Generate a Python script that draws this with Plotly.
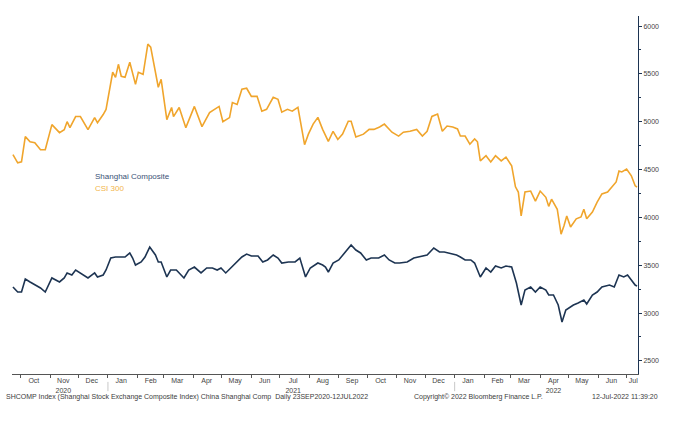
import plotly.graph_objects as go

# CSI 300 closes
csi_dates = [
    "2020-09-23", "2020-09-28", "2020-10-02", "2020-10-06", "2020-10-11", "2020-10-16", "2020-10-22",
    "2020-10-27", "2020-11-03", "2020-11-11", "2020-11-16", "2020-11-19", "2020-11-22", "2020-11-28",
    "2020-12-03", "2020-12-11", "2020-12-18", "2020-12-21", "2020-12-27", "2020-12-30", "2021-01-06",
    "2021-01-09", "2021-01-12", "2021-01-15", "2021-01-19", "2021-01-24", "2021-01-30", "2021-02-02",
    "2021-02-07", "2021-02-12", "2021-02-15", "2021-02-20", "2021-02-23", "2021-02-26", "2021-03-04",
    "2021-03-09", "2021-03-11", "2021-03-17", "2021-03-24", "2021-04-02", "2021-04-10", "2021-04-18",
    "2021-04-23", "2021-04-28", "2021-05-02", "2021-05-09", "2021-05-12", "2021-05-17", "2021-05-22",
    "2021-05-27", "2021-06-01", "2021-06-07", "2021-06-12", "2021-06-17", "2021-06-24", "2021-06-29",
    "2021-07-03", "2021-07-09", "2021-07-14", "2021-07-20", "2021-07-27", "2021-07-31", "2021-08-05",
    "2021-08-10", "2021-08-15", "2021-08-21", "2021-08-26", "2021-08-31", "2021-09-05", "2021-09-11",
    "2021-09-14", "2021-09-19", "2021-09-27", "2021-10-03", "2021-10-08", "2021-10-14", "2021-10-19",
    "2021-10-27", "2021-11-03", "2021-11-08", "2021-11-15", "2021-11-22", "2021-11-28", "2021-12-03",
    "2021-12-08", "2021-12-14", "2021-12-19", "2021-12-24", "2021-12-30", "2022-01-04", "2022-01-07",
    "2022-01-12", "2022-01-17", "2022-01-22", "2022-01-25", "2022-01-28", "2022-02-03", "2022-02-08",
    "2022-02-13", "2022-02-19", "2022-02-24", "2022-03-02", "2022-03-06", "2022-03-09", "2022-03-12",
    "2022-03-16", "2022-03-22", "2022-03-27", "2022-04-01", "2022-04-07", "2022-04-10", "2022-04-13",
    "2022-04-19", "2022-04-23", "2022-04-26", "2022-04-29", "2022-05-03", "2022-05-09", "2022-05-14",
    "2022-05-17", "2022-05-20", "2022-05-26", "2022-05-31", "2022-06-05", "2022-06-11", "2022-06-16",
    "2022-06-20", "2022-06-23", "2022-06-26", "2022-07-01", "2022-07-04", "2022-07-06", "2022-07-10",
    "2022-07-12",
]
csi_values = [
    4655, 4570, 4580, 4844, 4790, 4780, 4707,
    4707, 4970, 4886, 4917, 5000, 4938, 5054,
    5054, 4917, 5043, 4990, 5075, 5128, 5517,
    5464, 5600, 5475, 5464, 5622, 5390, 5517,
    5496, 5811, 5780, 5517, 5360, 5443, 5022,
    5149, 5054, 5149, 4938, 5160, 4949, 5096,
    5128, 5160, 5000, 5043, 5200, 5180, 5340,
    5350, 5265, 5265, 5110, 5130, 5255, 5235,
    5100, 5130, 5110, 5150, 4760, 4870, 4975,
    5045, 4920, 4795, 4900, 4815, 4870, 5005,
    5005, 4840, 4870, 4920, 4920, 4945, 4975,
    4890, 4850, 4890, 4900, 4920, 4850, 4900,
    5055, 5080, 4900, 4955, 4945, 4925, 4850,
    4850, 4765, 4820, 4790, 4590, 4645, 4580,
    4645, 4590, 4630, 4540, 4320, 4265, 4015,
    4265, 4275, 4170, 4275, 4210, 4115, 4190,
    4085, 3825, 3910, 4015, 3900, 3985, 4005,
    4085, 3985, 4055, 4160, 4245, 4265, 4330,
    4370, 4485, 4475, 4505, 4455, 4435, 4330,
    4318,
]

# Shanghai Composite closes
sh_dates = [
    "2020-09-23", "2020-09-28", "2020-10-02", "2020-10-06", "2020-10-11", "2020-10-16", "2020-10-22",
    "2020-10-27", "2020-11-03", "2020-11-11", "2020-11-16", "2020-11-19", "2020-11-24", "2020-11-28",
    "2020-12-03", "2020-12-11", "2020-12-18", "2020-12-21", "2020-12-27", "2020-12-30", "2021-01-04",
    "2021-01-09", "2021-01-13", "2021-01-19", "2021-01-24", "2021-01-27", "2021-01-30", "2021-02-05",
    "2021-02-09", "2021-02-14", "2021-02-20", "2021-02-23", "2021-02-26", "2021-03-04", "2021-03-08",
    "2021-03-14", "2021-03-22", "2021-03-27", "2021-04-02", "2021-04-09", "2021-04-15", "2021-04-21",
    "2021-04-26", "2021-04-30", "2021-05-05", "2021-05-11", "2021-05-16", "2021-05-22", "2021-05-27",
    "2021-06-01", "2021-06-08", "2021-06-13", "2021-06-18", "2021-06-24", "2021-06-29", "2021-07-03",
    "2021-07-10", "2021-07-17", "2021-07-22", "2021-07-28", "2021-08-02", "2021-08-10", "2021-08-15",
    "2021-08-18", "2021-08-21", "2021-08-26", "2021-09-01", "2021-09-08", "2021-09-14", "2021-09-19",
    "2021-09-24", "2021-09-30", "2021-10-05", "2021-10-13", "2021-10-19", "2021-10-24", "2021-10-30",
    "2021-11-04", "2021-11-12", "2021-11-19", "2021-11-25", "2021-12-03", "2021-12-10", "2021-12-16",
    "2021-12-21", "2021-12-26", "2022-01-03", "2022-01-07", "2022-01-12", "2022-01-18", "2022-01-22",
    "2022-01-28", "2022-02-03", "2022-02-08", "2022-02-13", "2022-02-19", "2022-02-24", "2022-03-02",
    "2022-03-07", "2022-03-12", "2022-03-16", "2022-03-22", "2022-03-27", "2022-04-01", "2022-04-07",
    "2022-04-10", "2022-04-15", "2022-04-20", "2022-04-24", "2022-04-28", "2022-05-01", "2022-05-06",
    "2022-05-11", "2022-05-17", "2022-05-20", "2022-05-26", "2022-05-31", "2022-06-05", "2022-06-13",
    "2022-06-18", "2022-06-23", "2022-06-28", "2022-07-02", "2022-07-06", "2022-07-10", "2022-07-12",
]
sh_values = [
    3273, 3220, 3220, 3356, 3325, 3293, 3262,
    3220, 3367, 3325, 3367, 3419, 3398, 3450,
    3419, 3367, 3419, 3377, 3398, 3450, 3575,
    3586, 3586, 3586, 3628, 3575, 3502, 3534,
    3586, 3690, 3607, 3534, 3534, 3377, 3450,
    3450, 3367, 3450, 3481, 3419, 3471, 3471,
    3450, 3471, 3419, 3481, 3523, 3586, 3617,
    3597, 3597, 3534, 3555, 3607, 3575, 3523,
    3534, 3534, 3575, 3377, 3471, 3523, 3502,
    3481, 3429, 3523, 3555, 3638, 3711, 3659,
    3628, 3555, 3575, 3575, 3607, 3555, 3523,
    3523, 3534, 3575, 3586, 3607, 3680, 3638,
    3638, 3628, 3607, 3586, 3555, 3555, 3523,
    3377, 3471, 3429, 3492, 3471, 3492, 3481,
    3314, 3084, 3241, 3273, 3220, 3273, 3241,
    3189, 3189, 3084, 2907, 3032, 3053, 3084,
    3105, 3137, 3095, 3189, 3220, 3273, 3293,
    3273, 3398, 3377, 3398, 3346, 3293, 3281,
]

# month labels, placed mid-month (last one is a part month)
month_ticks = [
    "2020-10-15", "2020-11-15", "2020-12-15", "2021-01-15", "2021-02-15", "2021-03-15",
    "2021-04-15", "2021-05-15", "2021-06-15", "2021-07-15", "2021-08-15", "2021-09-15",
    "2021-10-15", "2021-11-15", "2021-12-15", "2022-01-15", "2022-02-15", "2022-03-15",
    "2022-04-15", "2022-05-15", "2022-06-15", "2022-07-08",
]
month_labels = [
    "Oct", "Nov<br>2020", "Dec", "Jan", "Feb", "Mar",
    "Apr", "May", "Jun", "Jul<br>2021", "Aug", "Sep",
    "Oct", "Nov", "Dec", "Jan", "Feb", "Mar",
    "Apr<br>2022", "May", "Jun", "Jul",
]
year_breaks = ["2021-01-01", "2022-01-01"]

NAVY = "#1d3452"
GOLD = "#f0a52c"

fig = go.Figure()
fig.add_trace(go.Scatter(x=csi_dates, y=csi_values, mode="lines", name="CSI 300",
                         line=dict(color=GOLD, width=1.6)))
fig.add_trace(go.Scatter(x=sh_dates, y=sh_values, mode="lines", name="Shanghai Composite",
                         line=dict(color=NAVY, width=1.6)))

# legend written as plain text in the plot
fig.add_annotation(x=0.129, y=0.553, xref="paper", yref="paper", text="Shanghai Composite",
                   showarrow=False, xanchor="left", yanchor="middle",
                   font=dict(size=8, color="#3a5276"))
fig.add_annotation(x=0.129, y=0.517, xref="paper", yref="paper", text="CSI 300",
                   showarrow=False, xanchor="left", yanchor="middle",
                   font=dict(size=8, color="#f2b54a"))

# footer
foot = dict(size=7, color="#3c3c3c")
fig.add_annotation(x=-0.013, y=-0.064, xref="paper", yref="paper", showarrow=False,
                   xanchor="left", yanchor="middle", font=foot,
                   text="SHCOMP Index (Shanghai Stock Exchange Composite Index) China Shanghai Comp  Daily 23SEP2020-12JUL2022")
fig.add_annotation(x=0.639, y=-0.064, xref="paper", yref="paper", showarrow=False,
                   xanchor="left", yanchor="middle", font=foot,
                   text="Copyright© 2022 Bloomberg Finance L.P.")
fig.add_annotation(x=0.923, y=-0.064, xref="paper", yref="paper", showarrow=False,
                   xanchor="left", yanchor="middle", font=foot,
                   text="12-Jul-2022 11:39:20")

for yb in year_breaks:
    fig.add_shape(type="line", x0=yb, x1=yb, xref="x", yref="paper", y0=-0.022, y1=-0.048,
                  line=dict(color="#c8c8c8", width=1))

fig.update_layout(
    width=700, height=424,
    margin=dict(l=12, r=62, t=16, b=50),
    paper_bgcolor="white", plot_bgcolor="white",
    showlegend=False,
    font=dict(family="Liberation Sans, Arial, sans-serif"),
    xaxis=dict(
        type="date", range=["2020-09-22", "2022-07-13"],
        tickvals=month_ticks, ticktext=month_labels, ticks="", ticklen=0,
        tickfont=dict(size=7, color="#444"),
        showgrid=False, zeroline=False, showline=True, linecolor="#555", linewidth=1,
        minor=dict(ticks="outside", dtick="M1", tick0="2020-10-01", ticklen=3,
                   tickcolor="#555", showgrid=False),
    ),
    yaxis=dict(
        side="right", range=[2363, 6105],
        tickvals=[2500, 3000, 3500, 4000, 4500, 5000, 5500, 6000],
        ticks="outside", ticklen=3, tickcolor=NAVY,
        tickfont=dict(size=7, color="#444"),
        showgrid=False, zeroline=False, showline=True, linecolor=NAVY, linewidth=1,
        minor=dict(ticks="outside", dtick=250, ticklen=2, tickcolor=NAVY, showgrid=False),
    ),
)

# drop the page's default body margin so the figure sits at the window's corner
fig.write_html("out.html", config={"displayModeBar": False},
               post_script="document.body.style.margin = '0';")
